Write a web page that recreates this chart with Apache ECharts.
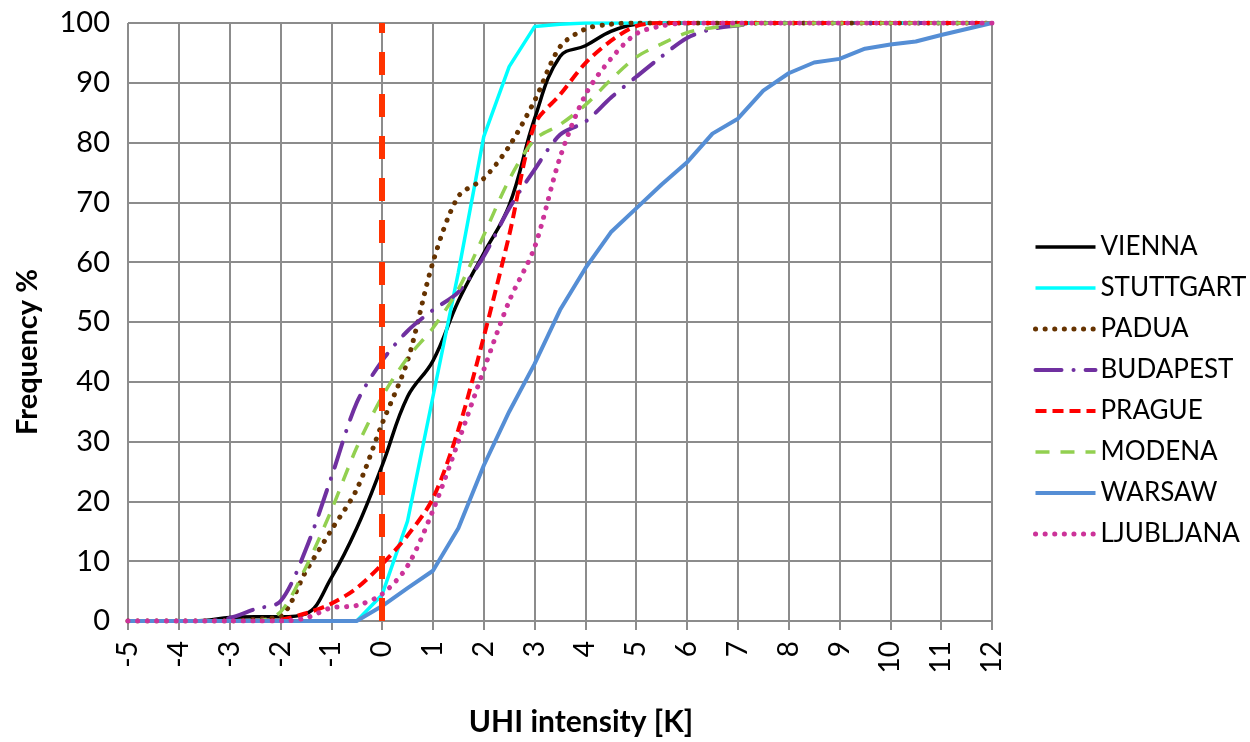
<!DOCTYPE html>
<html>
<head>
<meta charset="utf-8">
<script src="https://cdn.jsdelivr.net/npm/echarts@6/dist/echarts.min.js"></script>
<style>
  html, body { margin: 0; padding: 0; background: #fff; }
  #chart { width: 1250px; height: 742px; }
</style>
</head>
<body>
<div id="chart"></div>
<script>
// UHI intensity steps [K]
var xs = [-5, -4.5, -4, -3.5, -3, -2.5, -2, -1.5, -1, -0.5, 0, 0.5, 1, 1.5, 2, 2.5, 3, 3.5, 4, 4.5,
          5, 5.5, 6, 6.5, 7, 7.5, 8, 8.5, 9, 9.5, 10, 10.5, 11, 11.5, 12];

// cumulative frequency %
var vienna    = [0, 0, 0, 0.1, 0.6, 0.7, 0.7, 1.2, 7.2, 15.5, 26, 37.5, 43.5, 53.5, 61.5, 69.5, 84, 94.4, 96.2, 98.6,
                 99.8, 100, 100, 100, 100, 100, 100, 100, 100, 100, 100, 100, 100, 100, 100];
var stuttgart = [0, 0, 0, 0, 0, 0, 0, 0, 0, 0, 4.4, 16.7, 37.5, 58.3, 81, 92.7, 99.4, 99.8, 100, 100,
                 100, 100, 100, 100, 100, 100, 100, 100, 100, 100, 100, 100, 100, 100, 100];
var padua     = [0, 0, 0, 0, 0, 0.3, 0.8, 8.3, 15.2, 22, 33, 43.5, 60, 71, 74, 79.4, 87, 96, 99, 99.8,
                 100, 100, 100, 100, 100, 100, 100, 100, 100, 100, 100, 100, 100, 100, 100];
var budapest  = [0, 0, 0, 0, 0.5, 2, 3.3, 12, 24, 36.5, 43.5, 48.5, 52, 55, 61, 69, 75.5, 81.3, 83.5, 87.5,
                 91, 94.4, 97.5, 99, 99.6, 100, 100, 100, 100, 100, 100, 100, 100, 100, 100];
var prague    = [0, 0, 0, 0, 0, 0, 0.2, 1.3, 2.9, 5.5, 9.5, 14.3, 20.5, 32, 47.5, 64.5, 83, 88, 93.3, 97,
                 99.5, 100, 100, 100, 100, 100, 100, 100, 100, 100, 100, 100, 100, 100, 100];
var modena    = [0, 0, 0, 0, 0, 0, 1.5, 9, 18.5, 29, 37.5, 44, 49, 55.5, 64.5, 73.8, 80.5, 83, 86.3, 90.5,
                 94.3, 96.5, 98.4, 99.2, 99.6, 100, 100, 100, 100, 100, 100, 100, 100, 100, 100];
var warsaw    = [0, 0, 0, 0, 0, 0, 0, 0, 0, 0, 2.5, 5.5, 8.4, 15.5, 26, 35, 43, 52, 59, 65,
                 69, 73, 76.7, 81.5, 84, 88.7, 91.6, 93.4, 94, 95.7, 96.4, 96.9, 98, 99, 100];
var ljubljana = [0, 0, 0, 0, 0, 0, 0, 0.5, 2.2, 2.6, 4.5, 9.2, 18.5, 30, 42, 53.5, 62.5, 77.5, 88, 94,
                 98.2, 99.5, 100, 100, 100, 100, 100, 100, 100, 100, 100, 100, 100, 100, 100];

var names = ['VIENNA', 'STUTTGART', 'PADUA', 'BUDAPEST', 'PRAGUE', 'MODENA', 'WARSAW', 'LJUBLJANA'];

function pairs(vals) {
  return xs.map(function (x, i) { return [x, vals[i]]; });
}

function line(name, vals, color, width, dash, smooth, cap) {
  return {
    name: name,
    type: 'line',
    data: pairs(vals),
    symbol: 'none',
    smooth: smooth,
    itemStyle: { color: color },
    lineStyle: { color: color, width: width, type: dash, cap: cap || 'butt' }
  };
}

var font = 'Lato, "Open Sans", sans-serif';
var gridGrey = '#8c8c8c';

var myChart = echarts.init(document.getElementById('chart'));
var option = {
  animation: false,
  backgroundColor: '#fff',
  textStyle: { fontFamily: font },
  grid: { left: 128, right: 258, top: 23, bottom: 119 },
  legend: {
    data: names,
    orient: 'vertical',
    left: 1028,
    top: 228,
    itemWidth: 60,
    itemHeight: 14,
    itemGap: 13,
    itemStyle: { color: 'rgba(0,0,0,0)', borderWidth: 0, opacity: 0 },
    lineStyle: { width: 'inherit' },
    textStyle: { fontSize: 26, color: '#000', lineHeight: 28, fontFamily: font }
  },
  xAxis: {
    type: 'value',
    min: -5,
    max: 12,
    interval: 1,
    name: 'UHI intensity [K]',
    nameLocation: 'middle',
    nameGap: 86,
    nameTextStyle: { fontSize: 30, fontWeight: 'bold', color: '#000', padding: [0, 0, 0, 42] },
    axisLine: { lineStyle: { color: gridGrey, width: 2 } },
    axisTick: { show: true, length: 9, lineStyle: { color: gridGrey, width: 2 } },
    axisLabel: { rotate: 90, fontSize: 28, color: '#000', margin: 20 },
    splitLine: { show: true, lineStyle: { color: gridGrey, width: 2 } }
  },
  yAxis: {
    type: 'value',
    min: 0,
    max: 100,
    interval: 10,
    name: 'Frequency %',
    nameLocation: 'middle',
    nameGap: 86,
    nameTextStyle: { fontSize: 29, fontWeight: 'bold', color: '#000', padding: [0, 60, 0, 0] },
    axisLine: { show: true, lineStyle: { color: gridGrey, width: 2 } },
    axisTick: { show: true, length: 8, lineStyle: { color: gridGrey, width: 2 } },
    axisLabel: { fontSize: 29, color: '#000', margin: 18 },
    splitLine: { show: true, lineStyle: { color: gridGrey, width: 2 } }
  },
  series: [
    line('VIENNA', vienna, '#000000', 3.5, 'solid', 0.4),
    line('STUTTGART', stuttgart, '#00FFFF', 3.5, 'solid', false),
    line('PADUA', padua, '#663300', 5, [0.1, 9.5], 0.3, 'round'),
    line('BUDAPEST', budapest, '#7030A0', 4, [26, 12, 0.1, 12], 0.3, 'round'),
    line('PRAGUE', prague, '#FF0000', 4, [11, 6], 0.3),
    line('MODENA', modena, '#92D050', 3.5, [14, 11], 0.3),
    line('WARSAW', warsaw, '#558ED5', 4, 'solid', false),
    line('LJUBLJANA', ljubljana, '#CC3399', 5, [0.1, 9.5], 0.3, 'round'),
    {
      type: 'line',
      data: [],
      silent: true,
      markLine: {
        symbol: 'none',
        silent: true,
        label: { show: false },
        lineStyle: { color: '#FF3300', width: 6, type: [23, 19] },
        data: [{ xAxis: 0 }]
      },
      z: 10
    }
  ]
};
myChart.setOption(option);
</script>
</body>
</html>
